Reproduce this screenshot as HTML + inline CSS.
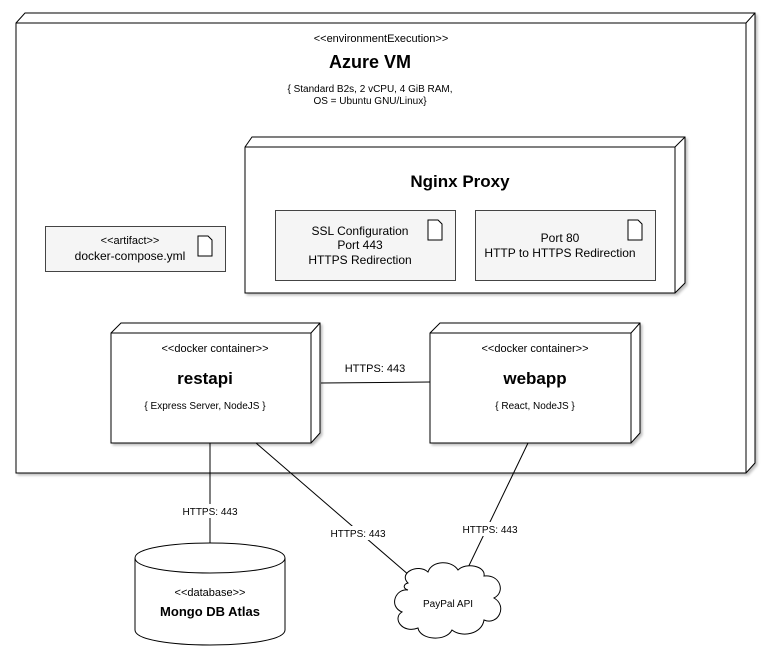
<!DOCTYPE html>
<html><head><style>
body{margin:0;background:#fff;}
svg text{font-family:"Liberation Sans",Arial,sans-serif;fill:#000;}
</style></head><body>
<svg width="773" height="657" viewBox="0 0 773 657" xmlns="http://www.w3.org/2000/svg">
<defs><filter id="sh" x="-5%" y="-5%" width="115%" height="115%"><feDropShadow dx="2" dy="2" stdDeviation="1.2" flood-color="#000" flood-opacity="0.25"/></filter></defs>
<g stroke="#000" stroke-width="1" fill="#fff">
<!-- Azure VM -->
<path d="M16,23 L25,13 L755,13 L755,463 L746,473 L16,473 Z" filter="url(#sh)"/>
<path d="M16,23 L746,23 L755,13 M746,23 L746,473" fill="none"/>
<!-- Nginx -->
<path d="M245,147 L252,137 L685,137 L685,283 L675,293 L245,293 Z" filter="url(#sh)"/>
<path d="M245,147 L675,147 L685,137 M675,147 L675,293" fill="none"/>
<!-- restapi -->
<path d="M111,333 L121,323 L320,323 L320,433 L311,443 L111,443 Z" filter="url(#sh)"/>
<path d="M111,333 L311,333 L320,323 M311,333 L311,443" fill="none"/>
<!-- webapp -->
<path d="M430,333 L440,323 L640,323 L640,433 L631,443 L430,443 Z" filter="url(#sh)"/>
<path d="M430,333 L631,333 L640,323 M631,333 L631,443" fill="none"/>
</g>
<g stroke="#444" stroke-width="1" fill="#f5f5f5">
<rect x="45.5" y="226.5" width="180" height="45"/>
<rect x="275.5" y="210.5" width="180" height="70"/>
<rect x="475.5" y="210.5" width="180" height="70"/>
</g>
<g stroke="#000" fill="#fff" stroke-width="1">
<path d="M198,236 h10 l4,4 v16 h-14 Z"/>
<path d="M428,220 h10 l4,4 v16 h-14 Z"/>
<path d="M628,220 h10 l4,4 v16 h-14 Z"/>
</g>
<!-- connectors -->
<g stroke="#000" stroke-width="1" fill="none">
<line x1="321" y1="383" x2="430" y2="382"/>
<line x1="210" y1="443" x2="210" y2="543"/>
<line x1="256" y1="443" x2="417" y2="582"/>
<line x1="528" y1="443" x2="463" y2="578"/>
</g>
<!-- Mongo cylinder -->
<g stroke="#000" fill="#fff">
<path d="M135,558 C135,538 285,538 285,558 L285,630 C285,650 135,650 135,630 Z"/>
<path d="M135,558 C135,578 285,578 285,558" fill="none"/>
<!-- cloud -->
<path d="M408,583 C398,573 418,563 428,572 C432,560 452,560 458,570 C466,562 486,566 484,576 C500,574 506,592 494,598 C508,606 498,626 484,620 C482,634 462,638 452,630 C446,642 420,640 418,628 C402,634 392,618 402,612 C388,606 396,588 408,590 C402,588 404,584 408,583 Z"/>
</g>
<!-- text -->
<g text-anchor="middle">
<text x="381" y="42" font-size="11">&lt;&lt;environmentExecution&gt;&gt;</text>
<text x="370" y="68" font-size="18" font-weight="bold">Azure VM</text>
<text x="370" y="92" font-size="10">{ Standard B2s, 2 vCPU, 4 GiB RAM,</text>
<text x="370" y="104" font-size="10">OS = Ubuntu GNU/Linux}</text>
<text x="460" y="187" font-size="17" font-weight="bold">Nginx Proxy</text>
<text x="130" y="244" font-size="11">&lt;&lt;artifact&gt;&gt;</text>
<text x="130" y="260" font-size="12">docker-compose.yml</text>
<text x="360" y="235" font-size="12">SSL Configuration</text>
<text x="360" y="249" font-size="12">Port 443</text>
<text x="360" y="264" font-size="12">HTTPS Redirection</text>
<text x="560" y="242" font-size="12">Port 80</text>
<text x="560" y="257" font-size="12">HTTP to HTTPS Redirection</text>
<text x="215" y="352" font-size="11">&lt;&lt;docker container&gt;&gt;</text>
<text x="205" y="384" font-size="17" font-weight="bold">restapi</text>
<text x="205" y="409" font-size="10">{ Express Server, NodeJS }</text>
<text x="535" y="352" font-size="11">&lt;&lt;docker container&gt;&gt;</text>
<text x="535" y="384" font-size="17" font-weight="bold">webapp</text>
<text x="535" y="409" font-size="10">{ React, NodeJS }</text>
<text x="210" y="596" font-size="11">&lt;&lt;database&gt;&gt;</text>
<text x="210" y="616" font-size="13" font-weight="bold">Mongo DB Atlas</text>
<text x="448" y="607" font-size="10">PayPal API</text>
</g>
<g text-anchor="middle" font-size="10">
<rect x="340" y="360" width="70" height="14" fill="#fff"/>
<text x="375" y="372" font-size="11">HTTPS: 443</text>
<rect x="178" y="504" width="64" height="14" fill="#fff"/>
<text x="210" y="515">HTTPS: 443</text>
<rect x="326" y="526" width="64" height="14" fill="#fff"/>
<text x="358" y="537">HTTPS: 443</text>
<rect x="458" y="522" width="64" height="14" fill="#fff"/>
<text x="490" y="533">HTTPS: 443</text>
</g>
</svg>
</body></html>
